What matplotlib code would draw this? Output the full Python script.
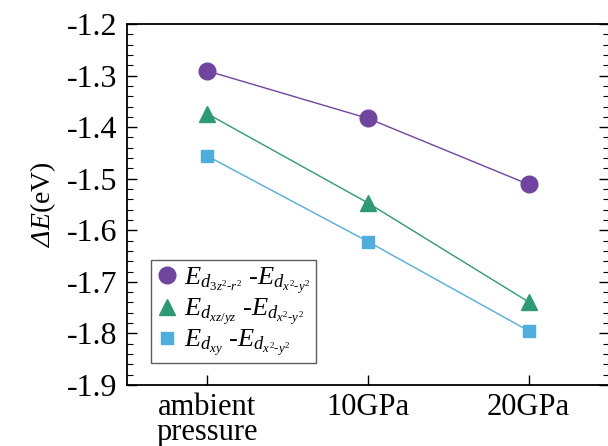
import matplotlib
matplotlib.use("Agg")
import matplotlib.pyplot as plt
from matplotlib.ticker import MultipleLocator

plt.rcParams['font.family'] = ['Liberation Serif', 'DejaVu Serif']
plt.rcParams['mathtext.fontset'] = 'custom'
plt.rcParams['mathtext.rm'] = 'Liberation Serif'
plt.rcParams['mathtext.it'] = 'Liberation Serif:italic'
# 大写希腊字母在 \mathit 里会被强制成正体，借 sf 槽位放斜体
plt.rcParams['mathtext.sf'] = 'Liberation Serif:italic'

# 压力条件与能级差 (eV)
conditions = ['ambient\npressure', '10GPa', '20GPa']
de_3z2 = [-1.291, -1.383, -1.511]
de_xzyz = [-1.374, -1.547, -1.739]
de_xy = [-1.456, -1.622, -1.795]

labels = [r'$E_{d_{3z^2\text{-}r^2}}$ -$E_{d_{x^2\text{-}y^2}}$',
          r'$E_{d_{xz/yz}}$ -$E_{d_{x^2\text{-}y^2}}$',
          r'$E_{d_{xy}}$ -$E_{d_{x^2\text{-}y^2}}$']

x = list(range(len(conditions)))

fig = plt.figure(figsize=(6.08, 4.46), dpi=100)
ax = fig.add_axes([127 / 608, 1 - 385 / 446, 482 / 608, 361 / 446])

ax.plot(x, de_3z2, '-o', color='#6f45a0', lw=1, ms=12, label=labels[0])
ax.plot(x, de_xzyz, '-^', color='#2e9a74', lw=1, ms=12, label=labels[1])
ax.plot(x, de_xy, '-s', color='#4faedd', lw=1, ms=8.5, label=labels[2])

ax.set_xlim(-0.5, 2.5)
ax.set_ylim(-1.9, -1.2)
ax.set_xticks(x)
ax.set_xticklabels(conditions, fontsize=22, linespacing=0.8)
ax.yaxis.set_major_locator(MultipleLocator(0.1))
ax.yaxis.set_minor_locator(MultipleLocator(0.02))
ax.set_yticklabels([f'{v:.1f}' for v in ax.get_yticks()], fontsize=23)
ax.tick_params(axis='y', which='both', direction='in', left=True, right=True)
ax.tick_params(axis='y', which='major', length=7, width=1, pad=7)
ax.tick_params(axis='y', which='minor', length=4, width=0.8)
ax.tick_params(axis='x', direction='in', length=7, width=1, pad=6)
for s in ax.spines.values():
    s.set_linewidth(1.3)

ax.set_ylabel(r'$\mathsf{\Delta}\mathit{E}$(eV)', fontsize=20, labelpad=6)

leg = ax.legend(loc='lower left', bbox_to_anchor=(0.05, 0.06), fontsize=19,
                frameon=True, fancybox=False, handlelength=0.8,
                handletextpad=0.25, borderpad=0.2, labelspacing=0.02,
                borderaxespad=0)
leg.get_frame().set_edgecolor('#333333')
leg.get_frame().set_linewidth(1)
for h in leg.legend_handles:
    h.set_linestyle('None')

fig.savefig('out.png', dpi=100)
